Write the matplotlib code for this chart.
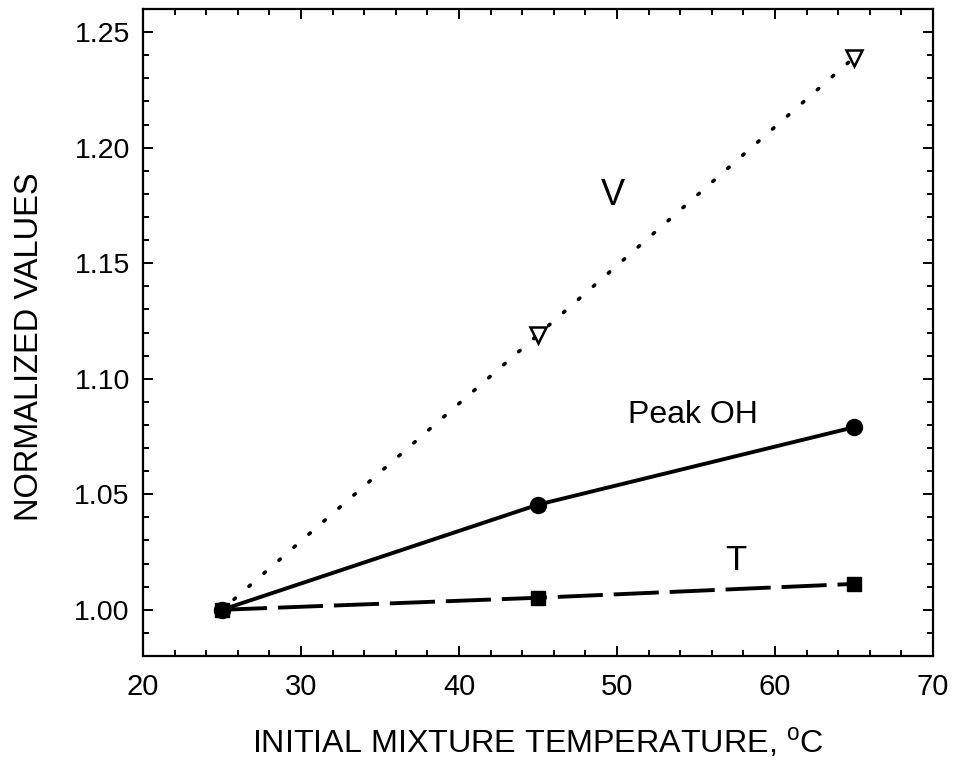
import numpy as np
import matplotlib
matplotlib.use("Agg")
import matplotlib.pyplot as plt
from matplotlib.ticker import MultipleLocator, FormatStrFormatter

# data
temp = [25, 45, 65]
v_vals = [1.000, 1.119, 1.239]
oh_vals = [1.000, 1.0455, 1.0790]
t_vals = [1.000, 1.0052, 1.0112]

plt.rcParams['font.family'] = ['Liberation Sans', 'DejaVu Sans']
plt.rcParams['mathtext.fontset'] = 'custom'
plt.rcParams['mathtext.rm'] = 'Liberation Sans'

fig = plt.figure(figsize=(9.54, 7.65), dpi=100)
ax = fig.add_axes([0.1499, 0.1425, 0.8281, 0.8457])

# V : dotted line, open down triangles (no marker at 25)
ax.plot(temp, v_vals, color='black', lw=2.6, linestyle=(1.1, (0.5, 5.0)),
        dash_capstyle='round')
ax.plot(temp[1:], v_vals[1:], linestyle='none', marker='v', ms=11,
        mfc='white', mec='black', mew=1.8)

# Peak OH : solid line, filled circles
ax.plot(temp, oh_vals, color='black', lw=2.8, marker='o', ms=11.5)

# T : dashed line, filled squares
ax.plot(temp, t_vals, color='black', lw=2.8, linestyle=(0, (11.6, 2.8)),
        marker='s', ms=10)

ax.text(49.75, 1.1795, 'V', fontsize=26, ha='center', va='center')
ax.text(54.8, 1.0845, 'Peak OH', fontsize=23, ha='center', va='center')
ax.text(57.5, 1.0213, 'T', fontsize=25, ha='center', va='center')

ax.set_xlim(20, 70)
ax.set_ylim(0.98, 1.26)
ax.xaxis.set_major_locator(MultipleLocator(10))
ax.xaxis.set_minor_locator(MultipleLocator(2))
ax.yaxis.set_major_locator(MultipleLocator(0.05))
ax.yaxis.set_minor_locator(MultipleLocator(0.01))
ax.yaxis.set_major_formatter(FormatStrFormatter('%.2f'))

ax.tick_params(which='both', direction='in', top=True, right=True, width=1.4)
ax.tick_params(which='major', length=7)
ax.tick_params(which='minor', length=4)
ax.tick_params(axis='y', labelsize=20.5, pad=9.5)
ax.tick_params(axis='x', labelsize=21, pad=12)
for s in ax.spines.values():
    s.set_linewidth(1.6)

ax.set_xlabel('INITIAL MIXTURE TEMPERATURE, $^{\\mathrm{o}}$C', fontsize=23.2,
              labelpad=18)
ax.set_ylabel('NORMALIZED VALUES', fontsize=23.5)
ax.yaxis.set_label_coords(-0.124, 0.4776)

fig.savefig('out.png', dpi=100)
